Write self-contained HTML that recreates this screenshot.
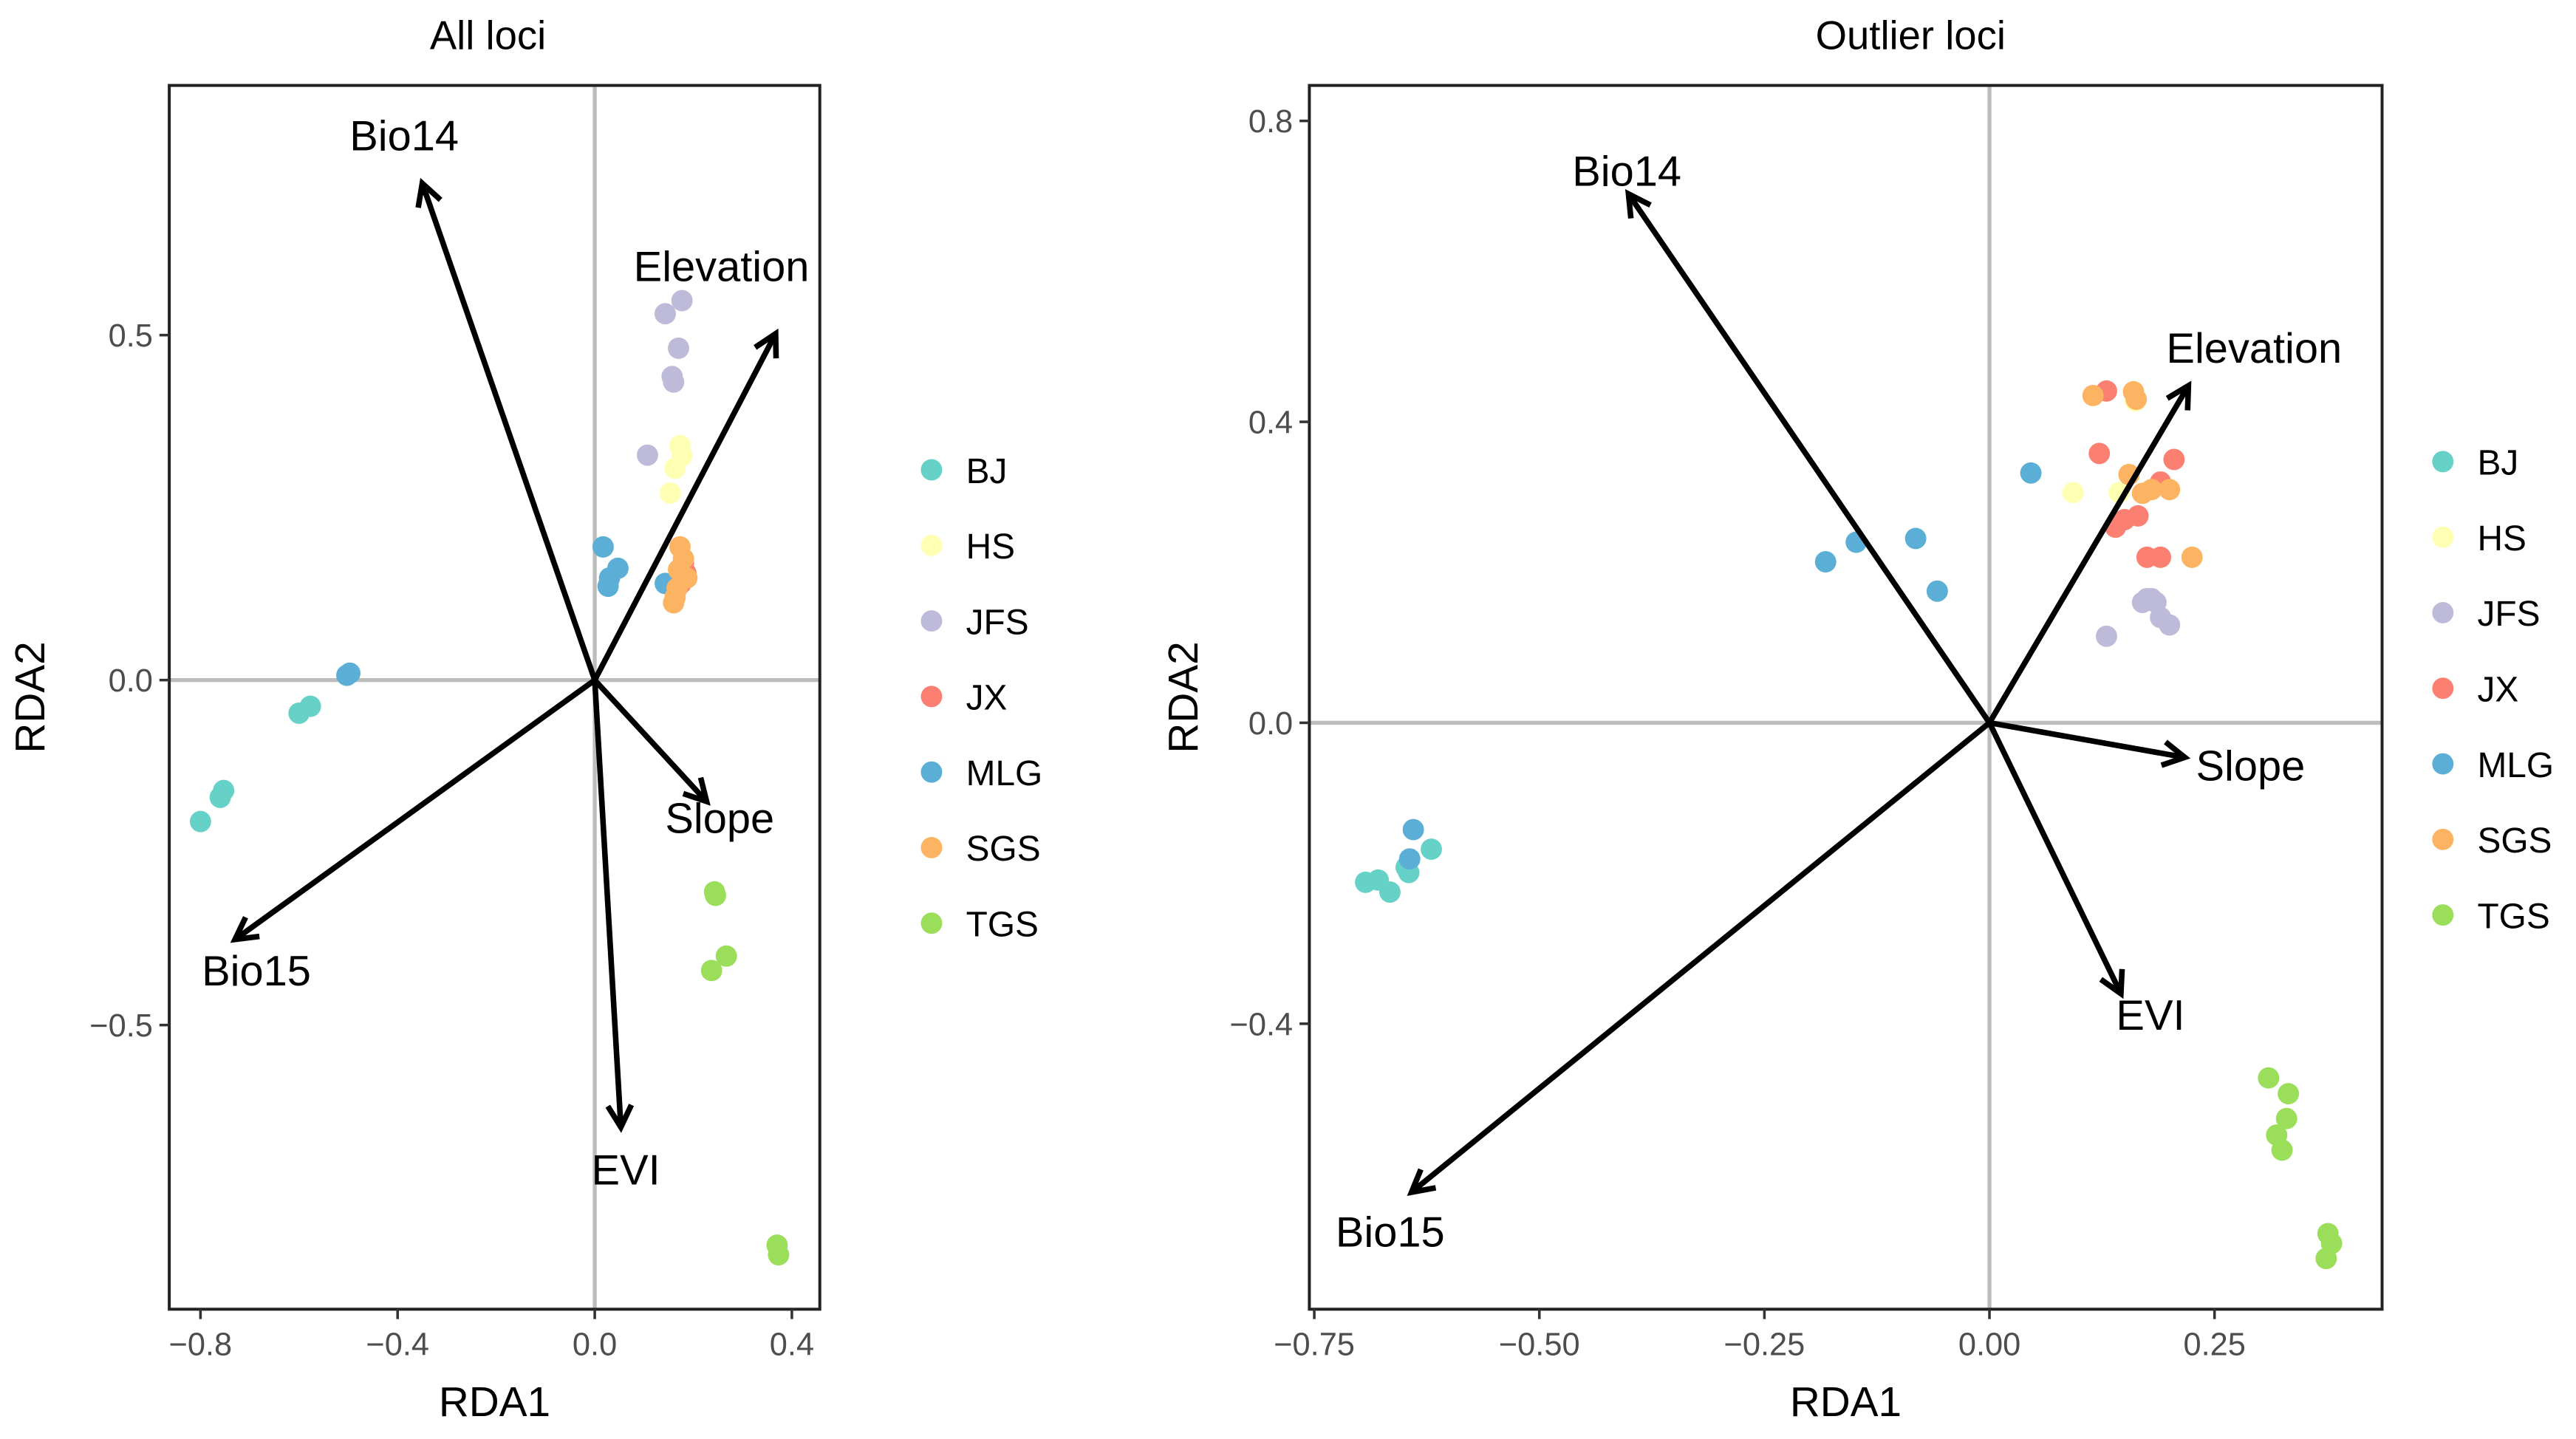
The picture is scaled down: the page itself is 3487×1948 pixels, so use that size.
<!DOCTYPE html>
<html><head><meta charset="utf-8"><style>
html,body{margin:0;padding:0;background:#fff;}
svg{display:block;}
text{font-family:"Liberation Sans",Arial,sans-serif;}
</style></head>
<body>
<svg id="fig" width="3487" height="1948" viewBox="0 0 1568 876" xmlns="http://www.w3.org/2000/svg"></svg>
<script>
// ----- Data -----
const groups = ["BJ","HS","JFS","JX","MLG","SGS","TGS"];
const groupColors = ["#66D1C6","#FFFFB3","#BEBADA","#FB8072","#5BAED6","#FDB462","#9ADE5A"];
const envVars = ["Bio14","Elevation","Slope","EVI","Bio15"];

// All loci panel
const allArrowX = [-0.35, 0.367, 0.227, 0.053, -0.73];
const allArrowY = [0.72, 0.502, -0.176, -0.648, -0.376];
const allPtGroup = ["BJ","BJ","BJ","BJ","BJ","MLG","MLG","MLG","MLG","MLG","MLG","MLG",
  "JFS","JFS","JFS","JFS","JFS","JFS","HS","HS","HS","HS","JX","JX","JX",
  "SGS","SGS","SGS","SGS","SGS","SGS","SGS","TGS","TGS","TGS","TGS","TGS","TGS"];
const allPtX = [-0.80,-0.76,-0.753,-0.60,-0.577,-0.503,-0.497,0.017,0.047,0.027,0.03,0.143,
  0.143,0.177,0.17,0.157,0.16,0.107,0.173,0.163,0.153,0.177,0.185,0.175,0.18,
  0.173,0.18,0.17,0.187,0.167,0.163,0.16,0.243,0.245,0.267,0.237,0.37,0.373];
const allPtY = [-0.205,-0.17,-0.16,-0.048,-0.038,0.007,0.01,0.193,0.162,0.136,0.148,0.14,
  0.531,0.55,0.481,0.44,0.432,0.326,0.34,0.307,0.271,0.325,0.155,0.14,0.17,
  0.193,0.176,0.16,0.148,0.133,0.12,0.112,-0.307,-0.312,-0.40,-0.421,-0.819,-0.833];
const allXTicks = [-0.8,-0.4,0.0,0.4];
const allXTickLabels = ["\u22120.8","\u22120.4","0.0","0.4"];
const allYTicks = [0.5,0.0,-0.5];
const allYTickLabels = ["0.5","0.0","\u22120.5"];

// Outlier loci panel
const outArrowX = [-0.401, 0.221, 0.217, 0.146, -0.642];
const outArrowY = [0.703, 0.448, -0.046, -0.36, -0.624];
const outPtGroup = ["BJ","BJ","BJ","BJ","BJ","BJ","MLG","MLG","MLG","MLG","MLG","MLG","MLG",
  "HS","HS","HS","JX","JX","JX","JX","JX","JX","JX","JX","JX",
  "SGS","SGS","SGS","SGS","SGS","SGS","SGS","SGS",
  "JFS","JFS","JFS","JFS","JFS","JFS","JFS",
  "TGS","TGS","TGS","TGS","TGS","TGS","TGS","TGS"];
const outPtX = [-0.693,-0.679,-0.666,-0.648,-0.645,-0.62,-0.64,-0.644,-0.182,-0.148,-0.082,-0.058,0.046,
  0.093,0.144,0.162,0.13,0.122,0.15,0.165,0.175,0.19,0.205,0.19,0.14,
  0.115,0.16,0.163,0.155,0.17,0.18,0.2,0.225,
  0.13,0.17,0.18,0.185,0.19,0.2,0.175,
  0.31,0.332,0.33,0.319,0.325,0.376,0.38,0.374];
const outPtY = [-0.212,-0.209,-0.225,-0.192,-0.199,-0.168,-0.142,-0.181,0.214,0.24,0.245,0.175,0.332,
  0.306,0.306,0.428,0.441,0.358,0.27,0.275,0.22,0.22,0.35,0.32,0.26,
  0.435,0.44,0.43,0.33,0.305,0.31,0.31,0.22,
  0.115,0.16,0.165,0.16,0.14,0.13,0.165,
  -0.472,-0.493,-0.526,-0.548,-0.568,-0.679,-0.692,-0.712];
const outXTicks = [-0.75,-0.5,-0.25,0.0,0.25];
const outXTickLabels = ["\u22120.75","\u22120.50","\u22120.25","0.00","0.25"];
const outYTicks = [0.8,0.4,0.0,-0.4];
const outYTickLabels = ["0.8","0.4","0.0","\u22120.4"];

const NS = "http://www.w3.org/2000/svg";
const svg = document.getElementById("fig");
function mk(tag, attrs, parent){
  const e = document.createElementNS(NS, tag);
  for (const k in attrs) e.setAttribute(k, attrs[k]);
  (parent||svg).appendChild(e);
  return e;
}

function panel(cfg){
  const g = mk("g", {});
  
  
  const sx = v => cfg.x0 + cfg.kx * v;
  const sy = v => cfg.y0 - cfg.ky * v;
  const t = mk("text", {x:cfg.titleX, y:30, "text-anchor":"middle","font-size":24.5, fill:"#000"}, g);
  t.textContent = cfg.title;
  
  
  const zl1 = mk("line", {x1:cfg.left, x2:cfg.right, y1:sy(0), y2:sy(0), stroke:"#bdbdbd","stroke-width":2.4}, g);
  
  
  const zl2 = mk("line", {x1:sx(0), x2:sx(0), y1:cfg.top, y2:cfg.bottom, stroke:"#bdbdbd","stroke-width":2.4}, g);
  
  
  for (let i=0;i<cfg.px.length;i++){
    const gi = groups.indexOf(cfg.pg[i]);
    const c = mk("circle", {cx:sx(cfg.px[i]), cy:sy(cfg.py[i]), r:6.5, fill:groupColors[gi]}, g);
    
    
  }
  for (let i=0;i<envVars.length;i++){
    const x1 = sx(0), y1 = sy(0), x2 = sx(cfg.ax[i]), y2 = sy(cfg.ay[i]);
    const ang = Math.atan2(y2-y1, x2-x1);
    const h = 15, spread = 0.5;
    const a = mk("path", {d:`M${x1},${y1}L${x2},${y2}M${x2-h*Math.cos(ang-spread)},${y2-h*Math.sin(ang-spread)}L${x2},${y2}L${x2-h*Math.cos(ang+spread)},${y2-h*Math.sin(ang+spread)}`,
      stroke:"#000","stroke-width":3.4,fill:"none","stroke-linejoin":"miter"}, g);
    
    
    const lt = mk("text", {x:x2 + cfg.lbl[i][0], y:y2 + cfg.lbl[i][1], "text-anchor":"middle","font-size":26,fill:"#000"}, g);
    lt.textContent = envVars[i];
    
    
  }
  const b = mk("rect", {x:cfg.left, y:cfg.top, width:cfg.right-cfg.left, height:cfg.bottom-cfg.top, fill:"none", stroke:"#222","stroke-width":1.8}, g);
  
  
  for (let i=0;i<cfg.xt.length;i++){
    const x = sx(cfg.xt[i]);
    const tk = mk("line", {x1:x,x2:x,y1:cfg.bottom,y2:cfg.bottom+6,stroke:"#333","stroke-width":1.6}, g);
    
    
    const tl = mk("text", {x:x, y:cfg.bottom+28, "text-anchor":"middle","font-size":19.5, fill:"#4d4d4d"}, g);
    tl.textContent = cfg.xtl[i];
    
    
  }
  for (let i=0;i<cfg.yt.length;i++){
    const y = sy(cfg.yt[i]);
    const tk = mk("line", {x1:cfg.left-6,x2:cfg.left,y1:y,y2:y,stroke:"#333","stroke-width":1.6}, g);
    
    
    const tl = mk("text", {x:cfg.left-10, y:y+7, "text-anchor":"end","font-size":19.5, fill:"#4d4d4d"}, g);
    tl.textContent = cfg.ytl[i];
    
    
  }
  const xt = mk("text", {x:(cfg.left+cfg.right)/2, y:862, "text-anchor":"middle","font-size":25.5, fill:"#000"}, g);
  xt.textContent = "RDA1";
  
  
  const yt = mk("text", {x:0, y:0, transform:`translate(${cfg.ytx},${(cfg.top+cfg.bottom)/2}) rotate(-90)`, "text-anchor":"middle","font-size":25.5, fill:"#000"}, g);
  yt.textContent = "RDA2";
  
  
  for (let i=0;i<groups.length;i++){
    const y = cfg.legY + i*46;
    const lc = mk("circle", {cx:cfg.legX, cy:y, r:6.5, fill:groupColors[i]}, g);
    
    
    const lt = mk("text", {x:cfg.legX+21, y:y+8, "font-size":21.5, fill:"#000"}, g);
    lt.textContent = groups[i];
    
    
  }
}

panel({name:"all-loci-panel", title:"All loci", titleX:297, left:103, right:499, top:52, bottom:797,
  x0:362, kx:300, y0:414, ky:420, ax:allArrowX, ay:allArrowY,
  px:allPtX, py:allPtY, pg:allPtGroup,
  lbl:[[-11,-20],[-33,-32],[8,19],[3,35],[13,28]],
  xt:allXTicks, xtl:allXTickLabels, yt:allYTicks, ytl:allYTickLabels,
  ytx:27, legX:567, legY:286});

panel({name:"outlier-loci-panel", title:"Outlier loci", titleX:1163, left:797, right:1450, top:52, bottom:797,
  x0:1211, kx:548, y0:440, ky:458, ax:outArrowX, ay:outArrowY,
  px:outPtX, py:outPtY, pg:outPtGroup,
  lbl:[[-1,-5],[40,-14],[40,14],[18,22],[-13,33]],
  xt:outXTicks, xtl:outXTickLabels, yt:outYTicks, ytl:outYTickLabels,
  ytx:729, legX:1487, legY:281});
</script>
</body></html>
